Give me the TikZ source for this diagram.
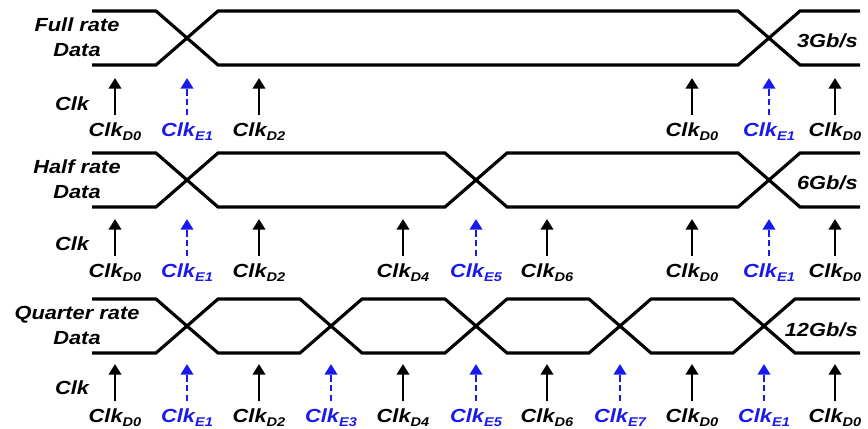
\documentclass[tikz,border=0pt]{standalone}
\usepackage{fontspec}
\setmainfont[FakeStretch=1.15]{Liberation Sans}
\usetikzlibrary{arrows.meta}
\definecolor{clkblue}{RGB}{25,25,235}
\newcommand{\clk}[1]{Clk\raisebox{-2.3pt}{\fontsize{7.2}{8}\selectfont #1}}
\tikzset{
    wave/.style={line width=1.8pt},
    txt/.style={font=\fontsize{10.8}{14.2}\selectfont\bfseries\itshape, inner sep=0pt},
    datalbl/.style={txt, align=center},
    ratelbl/.style={txt, anchor=base east},
    dlbl/.style={txt, anchor=base, inner sep=1pt},
    elbl/.style={dlbl, text=clkblue},
    darr/.style={line width=1.4pt, shorten <=3pt, -{Triangle[length=6pt,width=7pt]}},
    earr/.style={darr, clkblue, dash pattern=on 3.5pt off 2pt},
}
\begin{document}
\begin{tikzpicture}[x=0.2mm, y=-0.2mm]
    \useasboundingbox (0, 0) rectangle (868, 429);

    % Full rate
    \node[datalbl] (full) at (77, 37.5) {Full rate\\Data};
    \node[ratelbl] (fullrate) at (858, 47) {3Gb/s};
    \node[txt] (fullclk) at (72, 103.5) {Clk};
    \draw[wave] (92, 11) -- (156, 11) -- (218, 65) -- (738, 65) -- (800, 11) -- (860, 11);
    \draw[wave] (92, 65) -- (156, 65) -- (218, 11) -- (738, 11) -- (800, 65) -- (860, 65);
    \foreach \x/\s [count=\i] in {115/D0, 259/D2, 692/D0, 835/D0} {
        \node[dlbl] (fd\i) at (\x, 136) {\clk{\s}};
        \coordinate (fd\i tip) at (\x, 78);
        \draw[darr] (fd\i) -- (fd\i tip);
    }
    \foreach \x/\s [count=\i] in {187/E1, 769/E1} {
        \node[elbl] (fe\i) at (\x, 136) {\clk{\s}};
        \coordinate (fe\i tip) at (\x, 78);
        \draw[earr] (fe\i) -- (fe\i tip);
    }

    % Half rate
    \node[datalbl] (half) at (77, 179.5) {Half rate\\Data};
    \node[ratelbl] (halfrate) at (858, 189.5) {6Gb/s};
    \node[txt] (halfclk) at (72, 244) {Clk};
    \draw[wave] (92, 153) -- (156, 153) -- (218, 207) -- (445, 207) -- (507, 153) -- (738, 153) -- (800, 207) -- (860, 207);
    \draw[wave] (92, 207) -- (156, 207) -- (218, 153) -- (445, 153) -- (507, 207) -- (738, 207) -- (800, 153) -- (860, 153);
    \foreach \x/\s [count=\i] in {115/D0, 259/D2, 403/D4, 547/D6, 692/D0, 835/D0} {
        \node[dlbl] (hd\i) at (\x, 277) {\clk{\s}};
        \coordinate (hd\i tip) at (\x, 219);
        \draw[darr] (hd\i) -- (hd\i tip);
    }
    \foreach \x/\s [count=\i] in {187/E1, 476/E5, 769/E1} {
        \node[elbl] (he\i) at (\x, 277) {\clk{\s}};
        \coordinate (he\i tip) at (\x, 219);
        \draw[earr] (he\i) -- (he\i tip);
    }

    % Quarter rate
    \node[datalbl] (quarter) at (77, 325.5) {Quarter rate\\Data};
    \node[ratelbl] (quarterrate) at (858, 336.5) {12Gb/s};
    \node[txt] (quarterclk) at (72, 388) {Clk};
    \draw[wave] (92, 299) -- (156, 299) -- (218, 353) -- (300, 353) -- (362, 299) -- (445, 299) -- (507, 353) -- (589, 353) -- (651, 299) -- (733, 299) -- (795, 353) -- (860, 353);
    \draw[wave] (92, 353) -- (156, 353) -- (218, 299) -- (300, 299) -- (362, 353) -- (445, 353) -- (507, 299) -- (589, 299) -- (651, 353) -- (733, 353) -- (795, 299) -- (860, 299);
    \foreach \x/\s [count=\i] in {115/D0, 259/D2, 403/D4, 547/D6, 692/D0, 835/D0} {
        \node[dlbl] (qd\i) at (\x, 422) {\clk{\s}};
        \coordinate (qd\i tip) at (\x, 364);
        \draw[darr] (qd\i) -- (qd\i tip);
    }
    \foreach \x/\s [count=\i] in {187/E1, 331/E3, 476/E5, 620/E7, 764/E1} {
        \node[elbl] (qe\i) at (\x, 422) {\clk{\s}};
        \coordinate (qe\i tip) at (\x, 364);
        \draw[earr] (qe\i) -- (qe\i tip);
    }

\end{tikzpicture}
\end{document}
